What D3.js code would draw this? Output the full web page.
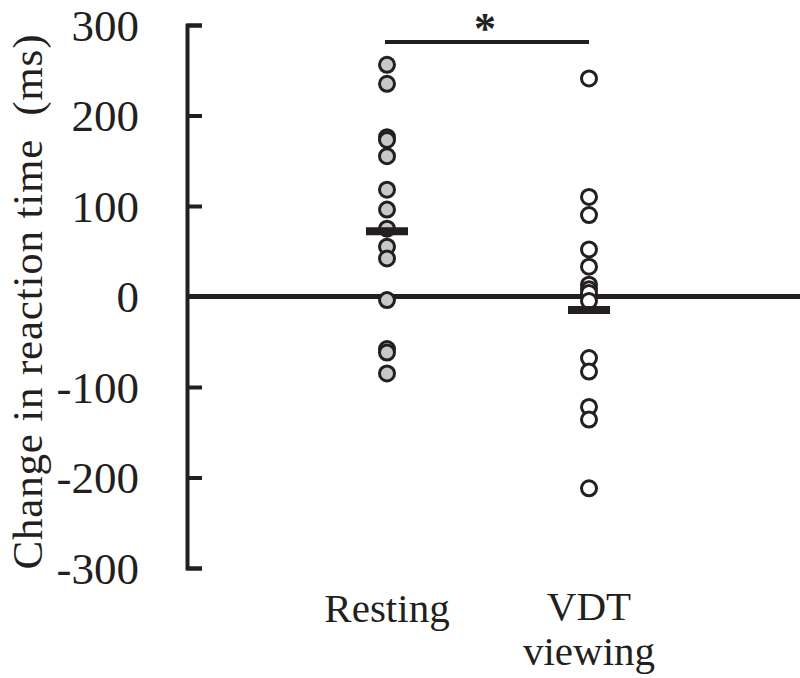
<!DOCTYPE html>
<html>
<head>
<meta charset="utf-8">
<script src="https://cdn.jsdelivr.net/npm/d3@7"></script>
<style>
  body { margin: 0; background: #fff; }
  text { font-family: "Liberation Serif", "Times New Roman", serif; fill: #231f20; }
</style>
</head>
<body>
<script>
// data
const categories = ["Resting", "VDT viewing"];
const restingValues = [256, 235, 176, 173, 155, 118, 96, 75, 55, 42, -4, -58, -62, -85];
const vdtValues = [241, 110, 90, 52, 33, 13, 8, 4, -5, -68, -83, -122, -136, -212];
const meanValues = [72, -15];
const yTicks = [-300, -200, -100, 0, 100, 200, 300];

const width = 800;
const height = 678;
const ink = "#231f20";

const svg = d3.select("body").append("svg")
  .attr("width", width)
  .attr("height", height)
  .attr("viewBox", [0, 0, width, height]);

const yScale = d3.scaleLinear().domain([-300, 300]).range([568, 25]);
const xScale = d3.scalePoint().domain(categories).range([387, 589]);
const axisX = 187;

// y axis, ticks pointing inward
const yAxis = d3.axisLeft(yScale)
  .tickValues(yTicks)
  .tickSize(-15)
  .tickSizeOuter(-15)
  .tickPadding(48)
  .tickFormat(d => String(d));

svg.append("g")
  .attr("transform", `translate(${axisX},0)`)
  .call(yAxis)
  .call(g => g.selectAll("path, line").attr("stroke", ink).attr("stroke-width", 4))
  .call(g => g.selectAll("text")
    .attr("font-size", 45)
    .attr("fill", ink)
    .attr("dy", "0.34em"));

// zero line
svg.append("line")
  .attr("x1", axisX).attr("x2", width)
  .attr("y1", yScale(0)).attr("y2", yScale(0))
  .attr("stroke", ink).attr("stroke-width", 5);

// y title
svg.append("text")
  .attr("transform", `translate(42,302) rotate(-90)`)
  .attr("text-anchor", "middle")
  .attr("font-size", 43)
  .attr("textLength", 535)
  .attr("lengthAdjust", "spacing")
  .attr("xml:space", "preserve")
  .text("Change in reaction time  (ms)");

// dots
const groups = [
  { name: categories[0], values: restingValues, fill: "#c8c8c8" },
  { name: categories[1], values: vdtValues, fill: "#ffffff" }
];

groups.forEach(grp => {
  svg.append("g")
    .selectAll("circle")
    .data(grp.values)
    .join("circle")
    .attr("cx", xScale(grp.name))
    .attr("cy", d => yScale(d))
    .attr("r", 7.5)
    .attr("fill", grp.fill)
    .attr("stroke", ink)
    .attr("stroke-width", 3);
});

// mean bars
svg.append("g")
  .selectAll("line")
  .data(meanValues)
  .join("line")
  .attr("x1", (d, i) => xScale(categories[i]) - 21)
  .attr("x2", (d, i) => xScale(categories[i]) + 21)
  .attr("y1", d => yScale(d))
  .attr("y2", d => yScale(d))
  .attr("stroke", ink)
  .attr("stroke-width", 8);

// significance bracket
svg.append("line")
  .attr("x1", xScale(categories[0]) - 2).attr("x2", xScale(categories[1]))
  .attr("y1", 42).attr("y2", 42)
  .attr("stroke", ink).attr("stroke-width", 4);

svg.append("text")
  .attr("x", (xScale(categories[0]) + xScale(categories[1])) / 2 - 3)
  .attr("y", 43)
  .attr("text-anchor", "middle")
  .attr("font-size", 44)
  .attr("font-weight", "bold")
  .text("*");

// category labels
svg.append("text")
  .attr("x", xScale(categories[0]))
  .attr("y", 622)
  .attr("text-anchor", "middle")
  .attr("font-size", 41)
  .text("Resting");

svg.append("text")
  .attr("x", xScale(categories[1]))
  .attr("y", 620)
  .attr("text-anchor", "middle")
  .attr("font-size", 41)
  .selectAll("tspan")
  .data(["VDT", "viewing"])
  .join("tspan")
  .attr("x", xScale(categories[1]))
  .attr("dy", (d, i) => i === 0 ? 0 : 45)
  .text(d => d);
</script>
</body>
</html>
